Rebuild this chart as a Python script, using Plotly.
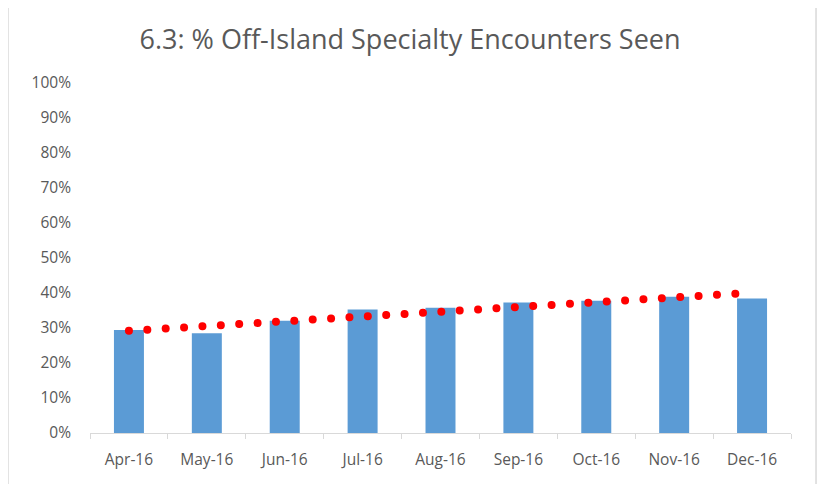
import plotly.graph_objects as go

months = ["Apr-16", "May-16", "Jun-16", "Jul-16", "Aug-16", "Sep-16", "Oct-16", "Nov-16", "Dec-16"]
pct_seen = [29.4, 28.5, 32.1, 35.3, 35.8, 37.3, 37.8, 38.9, 38.4]
trend_x = ["Apr-16", "Dec-16"]
trend_y = [29.2, 40.1]
y_ticks = [0, 10, 20, 30, 40, 50, 60, 70, 80, 90, 100]
y_tick_labels = [f"{v}%" for v in y_ticks]

# page has an 8px body margin; layout numbers below compensate for it
fig = go.Figure()
fig.add_trace(go.Bar(x=months, y=pct_seen, marker=dict(color="#5b9bd5", line=dict(width=0)),
                     width=0.385, showlegend=False))
fig.add_trace(go.Scatter(x=trend_x, y=trend_y, mode="lines",
                         line=dict(color="#ff0000", width=7, dash="7px,11.4px"),
                         showlegend=False))

fig.update_layout(
    width=826, height=484,
    margin=dict(l=82, r=43, t=75, b=59),
    paper_bgcolor="white", plot_bgcolor="white",
    title=dict(text="6.3: % Off-Island Specialty Encounters Seen", x=(410 - 8) / 826, xanchor="center",
               y=1 - 32 / 484, yanchor="middle", xref="container", yref="container",
               font=dict(family="Open Sans", size=27, color="#595959")),
    font=dict(family="Open Sans", size=15, color="#595959"),
    xaxis=dict(showline=True, linecolor="#d9d9d9", linewidth=1, ticks="outside",
               tickson="boundaries", ticklen=5, tickcolor="#d9d9d9", showgrid=False,
               ticklabelstandoff=12,
               tickfont=dict(family="Open Sans", size=15.5, color="#595959")),
    yaxis=dict(range=[0, 100], tickvals=y_ticks, ticktext=y_tick_labels, showgrid=False,
               showline=False, zeroline=False, ticks="", ticklabelstandoff=18,
               tickfont=dict(family="Open Sans", size=15.5, color="#595959")),
    shapes=[dict(type="rect", xref="paper", yref="paper", x0=-0.117, x1=1.0357,
                 y0=-0.2, y1=1.2286, line=dict(color="#d9d9d9", width=1.5), layer="below"),
            dict(type="line", xref="paper", yref="paper", x0=-0.124, x1=-0.124,
                 y0=-0.2, y1=1.3, line=dict(color="#d9d9d9", width=1.5))],
)

# round dots for the trendline (Excel "round dot" dash style)
post = """
document.querySelectorAll('.scatterlayer path.js-line').forEach(function(p){
  p.style.strokeLinecap = 'round';
  p.style.strokeWidth = '8px';
  p.style.strokeDasharray = '0.01px,18.4px';
});
"""
fig.write_html("out.html", post_script=post)
